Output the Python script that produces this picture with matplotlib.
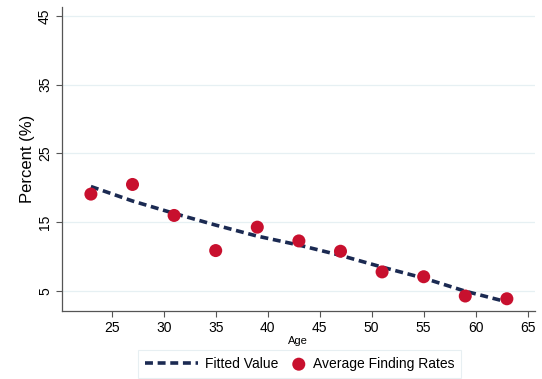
import numpy as np
import matplotlib
matplotlib.use("Agg")
from matplotlib import pyplot as plt
from matplotlib.legend_handler import HandlerPathCollection

plt.rcParams['font.family'] = ['Liberation Sans', 'DejaVu Sans']

# average finding rates by age group, with the fitted curve
ages = [23, 27, 31, 35, 39, 43, 47, 51, 55, 59, 63]
avg_rates = [19.1, 20.5, 16.0, 10.9, 14.3, 12.3, 10.8, 7.8, 7.1, 4.3, 3.9]
fitted = [20.2, 18.1, 16.3, 14.6, 13.0, 11.7, 10.2, 8.5, 6.9, 5.0, 3.45]
yticks = [5, 15, 25, 35, 45]
xticks = [25, 30, 35, 40, 45, 50, 55, 60, 65]

navy = '#1b2a52'
red = '#c8102e'


# put the dot at the right end of its handle box, next to the text
class DotHandler(HandlerPathCollection):
    def get_xdata(self, legend, xdescent, ydescent, width, height, fontsize):
        x = -xdescent + width - 5.0
        return [x], [x]


fig = plt.figure(figsize=(5.42, 3.79), dpi=100)
ax = fig.add_axes([0.114, 0.179, 0.873, 0.803])

for y in yticks:
    ax.axhline(y, color='#e6f0f3', lw=0.9, zorder=0)

ax.plot(ages, fitted, color=navy, lw=2.6, ls=(0, (2.2, 1.3)), label='Fitted Value', zorder=2)
dots = ax.scatter(ages, avg_rates, s=88, color=red, edgecolor='none', label='Average Finding Rates', zorder=3)

ax.set_xlim(20.2, 65.7)
ax.set_ylim(2.1, 46.3)
ax.set_xticks(xticks)
ax.set_yticks(yticks)
ax.tick_params(axis='y', labelrotation=90, labelsize=10, length=4, color='#555555', pad=3)
ax.tick_params(axis='x', labelsize=10, length=4, color='#555555', pad=3)
for lab in ax.get_yticklabels():
    lab.set_va('center')

for s in ['top', 'right']:
    ax.spines[s].set_visible(False)
for s in ['left', 'bottom']:
    ax.spines[s].set_color('#555555')
    ax.spines[s].set_linewidth(0.9)

ax.set_xlabel('Age', fontsize=8, labelpad=1)
ax.set_ylabel('Percent (%)', fontsize=12, labelpad=2)

leg = fig.legend(loc='center', bbox_to_anchor=(0.5526, 0.04), ncol=2, fontsize=10,
                 frameon=True, fancybox=False, edgecolor='#e2ecef', handlelength=3.8,
                 columnspacing=-1.8, borderpad=0.5, handletextpad=0.5,
                 handler_map={dots: DotHandler()})
leg.get_frame().set_linewidth(0.8)

fig.savefig('out.png', dpi=100)
